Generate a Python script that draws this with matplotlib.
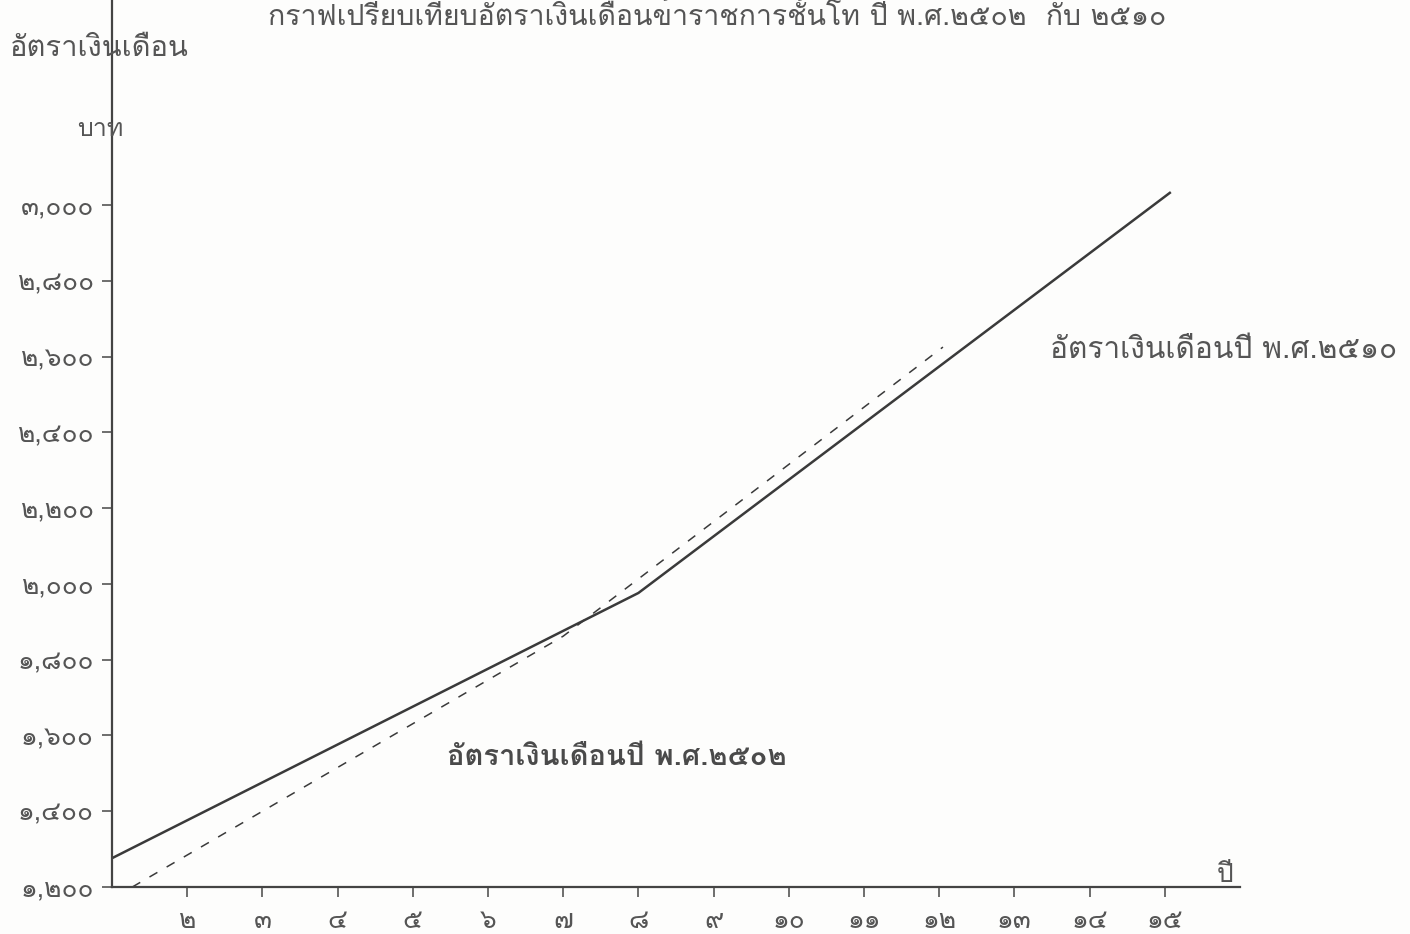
import matplotlib
matplotlib.use("Agg")
import matplotlib.pyplot as plt
from matplotlib import font_manager as fm
from matplotlib.ft2font import FT2Font

# ---------------- data ----------------
years_2510 = [1, 8, 15.08]
salary_2510 = [1276, 1976, 3034]

years_2502 = [1.27, 7, 12.05]
salary_2502 = [1200, 1862, 2625]

x_ticks = list(range(2, 16))
x_labels = ["๒", "๓", "๔", "๕", "๖", "๗", "๘", "๙", "๑๐", "๑๑", "๑๒", "๑๓", "๑๔", "๑๕"]
y_ticks = [1200, 1400, 1600, 1800, 2000, 2200, 2400, 2600, 2800, 3000]
y_labels = ["๑,๒๐๐", "๑,๔๐๐", "๑,๖๐๐", "๑,๘๐๐", "๒,๐๐๐", "๒,๒๐๐", "๒,๔๐๐", "๒,๖๐๐", "๒,๘๐๐", "๓,๐๐๐"]

title = "กราฟเปรียบเทียบอัตราเงินเดือนข้าราชการชั้นโท ปี พ.ศ.๒๕๐๒  กับ ๒๕๑๐"
y_title = "อัตราเงินเดือน"
y_unit = "บาท"
x_unit = "ปี"
label_2510 = "อัตราเงินเดือนปี พ.ศ.๒๕๑๐"
label_2502 = "อัตราเงินเดือนปี พ.ศ.๒๕๐๒"

# ---------------- fonts ----------------
cands = []
for f in fm.fontManager.ttflist:
    try:
        cmap = FT2Font(f.fname).get_charmap()
        if 0x0E01 in cmap and 0x0E50 in cmap:
            cands.append(f.name)
    except Exception:
        pass
pref = [n for n in cands if "Typewriter" in n or "Typo" in n or "Mono" in n]
fam_list = []
if pref:
    fam_list.append(pref[0])
elif cands:
    fam_list.append(cands[0])
fam_list.append("DejaVu Sans")
plt.rcParams["font.family"] = fam_list

ink = "#555555"
line_ink = "#3a3a3a"

# ---------------- figure ----------------
fig = plt.figure(figsize=(14.1, 9.34), dpi=100)
fig.patch.set_facecolor("#fdfdfc")
ax = fig.add_axes([112 / 1410, 47 / 934, 1128 / 1410, 887 / 934])
ax.set_facecolor("none")

ax.plot(years_2510, salary_2510, color=line_ink, lw=1.8, solid_capstyle="butt")
ax.plot(years_2502, salary_2502, color=line_ink, lw=1.1, linestyle=(0, (6, 7)))

ax.set_xlim(1, 16)
ax.set_ylim(1200, 3541)

for s in ["top", "right"]:
    ax.spines[s].set_visible(False)
for s in ["left", "bottom"]:
    ax.spines[s].set_color("#444444")
    ax.spines[s].set_linewidth(1.6)

ax.set_xticks(x_ticks)
ax.set_xticklabels(x_labels)
ax.set_yticks(y_ticks)
ax.set_yticklabels(y_labels)
ax.tick_params(axis="both", colors="#555555", labelcolor=ink, labelsize=19,
               length=7, width=1.2, direction="out")
ax.tick_params(axis="x", pad=9)
ax.tick_params(axis="y", pad=6)

# texts
fig.text(717 / 1410, 1 - 25 / 934, title, ha="center", va="baseline",
         fontsize=20.5, color=ink)
fig.text(10 / 1410, 1 - 48 / 934, y_title, ha="left", va="center",
         fontsize=21, color=ink)
fig.text(100 / 1410, 1 - 130 / 934, y_unit, ha="center", va="center",
         fontsize=18, color=ink)
ax.text(15.8, 1200, x_unit, ha="center", va="bottom", fontsize=19, color=ink)
ax.text(13.47, 2618, label_2510, ha="left", va="center", fontsize=21.5, color=ink)
ax.text(5.45, 1543, label_2502, ha="left", va="center", fontsize=21,
        color="#4a4a4a", fontweight="bold")

fig.savefig("out.png", dpi=100, facecolor=fig.get_facecolor())
